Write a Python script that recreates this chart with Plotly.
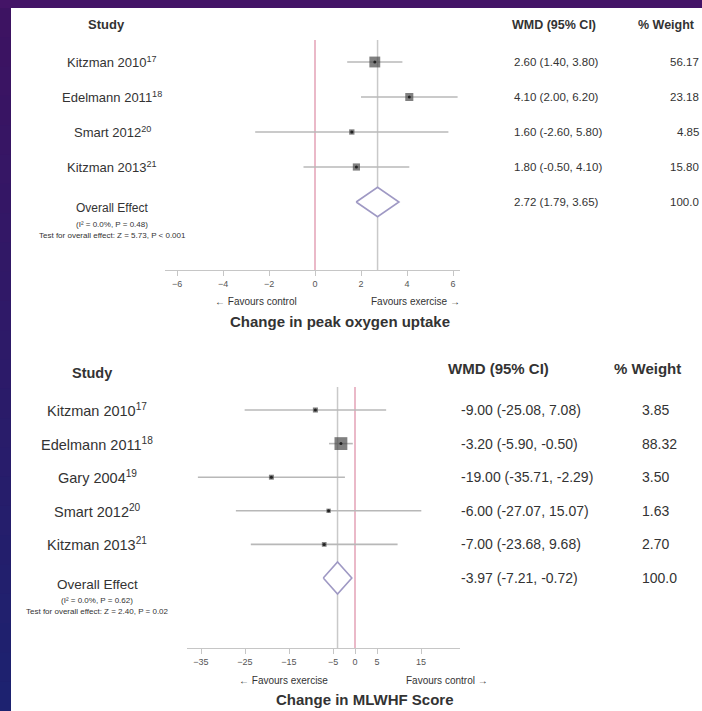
import plotly.graph_objects as go
import numpy as np

# ---------------- data ----------------
top_studies = ["Kitzman 2010", "Edelmann 2011", "Smart 2012", "Kitzman 2013"]
top_refs = ["17", "18", "20", "21"]
top_est = [2.60, 4.10, 1.60, 1.80]
top_lo = [1.40, 2.00, -2.60, -0.50]
top_hi = [3.80, 6.20, 5.80, 4.10]
top_wt = [56.17, 23.18, 4.85, 15.80]
top_overall = [2.72, 1.79, 3.65]
top_ticks = [-6, -4, -2, 0, 2, 4, 6]
top_title = "Change in peak oxygen uptake"
top_left_note = "\u2190 Favours control"
top_right_note = "Favours exercise \u2192"
top_het = ["(I\u00b2 = 0.0%, P = 0.48)", "Test for overall effect: Z = 5.73, P < 0.001"]

bot_studies = ["Kitzman 2010", "Edelmann 2011", "Gary 2004", "Smart 2012", "Kitzman 2013"]
bot_refs = ["17", "18", "19", "20", "21"]
bot_est = [-9.00, -3.20, -19.00, -6.00, -7.00]
bot_lo = [-25.08, -5.90, -35.71, -27.07, -23.68]
bot_hi = [7.08, -0.50, -2.29, 15.07, 9.68]
bot_wt = [3.85, 88.32, 3.50, 1.63, 2.70]
bot_overall = [-3.97, -7.21, -0.72]
bot_ticks = [-35, -25, -15, -5, 0, 5, 15]
bot_title = "Change in MLWHF Score"
bot_left_note = "\u2190 Favours exercise"
bot_right_note = "Favours control \u2192"
bot_het = ["(I\u00b2 = 0.0%, P = 0.62)", "Test for overall effect: Z = 2.40, P = 0.02"]

headers = ["Study", "WMD (95% CI)", "% Weight"]

W, H = 702, 711
def px(x):
    return x / W
def py(y):
    return 1 - y / H

FONT = "Liberation Sans, Arial, sans-serif"
TXT = "#333333"

fig = go.Figure()
annotations = []
shapes = []

# ---------------- background frame ----------------
shapes.append(dict(type="rect", xref="paper", yref="paper", x0=0, x1=1, y0=py(8), y1=1,
                   fillcolor="#441467", line=dict(width=0), layer="below"))
nb = 24
c0 = np.array([0x3d, 0x13, 0x62]); c1 = np.array([0x1d, 0x22, 0x70])
for k in range(nb):
    c = (c0 + (c1 - c0) * k / (nb - 1)).astype(int)
    y0 = 8 + (H - 8) * k / nb
    y1 = 8 + (H - 8) * (k + 1) / nb + 1
    shapes.append(dict(type="rect", xref="paper", yref="paper", x0=0, x1=px(11),
                       y0=py(min(y1, H)), y1=py(y0),
                       fillcolor="rgb(%d,%d,%d)" % tuple(c), line=dict(width=0), layer="below"))


def forest(studies, refs, est, lo, hi, wt, overall, xa, ya, lab_x, lab_fs, val_x, val_fs,
           wt_x, wt_anchor, het, het_fs, diam_h):
    n = len(studies)
    rows = list(range(1, n + 1))
    orow = n + 1
    est = np.array(est); lo = np.array(lo); hi = np.array(hi); wt = np.array(wt)
    sizes = 3 + np.sqrt(wt) * 1.05
    fig.add_trace(go.Scatter(
        x=est, y=rows, mode="markers", xaxis=xa, yaxis=ya, showlegend=False,
        marker=dict(symbol="square", size=sizes, color="#4a4a4a", line=dict(width=0)),
        error_x=dict(type="data", symmetric=False, array=hi - est, arrayminus=est - lo,
                     color="#b8b8b8", thickness=1.6, width=0),
        hoverinfo="skip"))
    fig.add_trace(go.Scatter(x=est, y=rows, mode="markers", xaxis=xa, yaxis=ya, showlegend=False,
                             marker=dict(symbol="circle", size=3, color="#222"), hoverinfo="skip"))
    oe, ol, oh = overall
    fig.add_trace(go.Scatter(
        x=[ol, oe, oh, oe, ol], y=[orow, orow - diam_h, orow, orow + diam_h, orow],
        mode="lines", fill="toself", fillcolor="white", xaxis=xa, yaxis=ya,
        line=dict(color="#9f99c4", width=1.6), showlegend=False, hoverinfo="skip"))
    yref = ya
    xref = xa
    shapes.append(dict(type="line", xref=xref, yref=yref + " domain", x0=0, x1=0, y0=0, y1=1,
                       line=dict(color="#e3a2b6", width=1.5), layer="below"))
    shapes.append(dict(type="line", xref=xref, yref=yref + " domain", x0=oe, x1=oe, y0=0, y1=1,
                       line=dict(color="#c9c9c9", width=1.5), layer="below"))
    for i in range(n):
        annotations.append(dict(x=px(lab_x), xref="paper", y=rows[i], yref=yref,
                                text="%s<sup>%s</sup>" % (studies[i], refs[i]), showarrow=False,
                                xanchor="center", font=dict(size=lab_fs, color=TXT, family=FONT)))
        annotations.append(dict(x=px(val_x), xref="paper", y=rows[i], yref=yref,
                                text="%.2f (%.2f, %.2f)" % (est[i], lo[i], hi[i]), showarrow=False,
                                xanchor="left", font=dict(size=val_fs, color=TXT, family=FONT)))
        annotations.append(dict(x=px(wt_x), xref="paper", y=rows[i], yref=yref,
                                text="%.2f" % wt[i], showarrow=False,
                                xanchor=wt_anchor, font=dict(size=val_fs, color=TXT, family=FONT)))
    annotations.append(dict(x=px(lab_x), xref="paper", y=orow, yref=yref, yshift=-6,
                            text="Overall Effect", showarrow=False, xanchor="center",
                            font=dict(size=lab_fs - 1, color=TXT, family=FONT)))
    annotations.append(dict(x=px(lab_x), xref="paper", y=orow, yref=yref, yshift=-22,
                            text=het[0], showarrow=False, xanchor="center",
                            font=dict(size=het_fs, color=TXT, family=FONT)))
    annotations.append(dict(x=px(lab_x), xref="paper", y=orow, yref=yref, yshift=-33,
                            text=het[1], showarrow=False, xanchor="center",
                            font=dict(size=het_fs, color=TXT, family=FONT)))
    annotations.append(dict(x=px(val_x), xref="paper", y=orow, yref=yref,
                            text="%.2f (%.2f, %.2f)" % (oe, ol, oh), showarrow=False,
                            xanchor="left", font=dict(size=val_fs, color=TXT, family=FONT)))
    annotations.append(dict(x=px(wt_x), xref="paper", y=orow, yref=yref,
                            text="100.0", showarrow=False,
                            xanchor=wt_anchor, font=dict(size=val_fs, color=TXT, family=FONT)))


# top panel
forest(top_studies, top_refs, top_est, top_lo, top_hi, top_wt, top_overall, "x", "y",
       lab_x=112, lab_fs=13, val_x=512, val_fs=11.5, wt_x=701, wt_anchor="right",
       het=top_het, het_fs=8, diam_h=0.42)
# bottom panel
forest(bot_studies, bot_refs, bot_est, bot_lo, bot_hi, bot_wt, bot_overall, "x2", "y2",
       lab_x=97, lab_fs=14.5, val_x=459, val_fs=14, wt_x=640, wt_anchor="left",
       het=bot_het, het_fs=8, diam_h=0.48)

def head(x, y, t, fs, anchor="center"):
    annotations.append(dict(x=px(x), y=py(y), xref="paper", yref="paper", text="<b>%s</b>" % t,
                            showarrow=False, xanchor=anchor, yanchor="middle",
                            font=dict(size=fs, color=TXT, family=FONT)))

head(106, 24, headers[0], 13)
head(510, 25, headers[1], 12.5, "left")
head(636, 25, headers[2], 12.5, "left")
head(92, 373, headers[0], 14.5)
head(446, 368, headers[1], 15, "left")
head(612, 368, headers[2], 15, "left")

def cap(x, y, t, fs, anchor, bold=False):
    annotations.append(dict(x=px(x), y=py(y), xref="paper", yref="paper",
                            text=("<b>%s</b>" % t) if bold else t, showarrow=False,
                            xanchor=anchor, yanchor="middle",
                            font=dict(size=fs, color=TXT, family=FONT)))

cap(213, 301, top_left_note, 10, "left")
cap(462, 301, top_right_note, 10, "right")
cap(340, 321, top_title, 15, "center", True)
cap(237, 680, bot_left_note, 10, "left")
cap(490, 680, bot_right_note, 10, "right")
cap(365, 699, bot_title, 15, "center", True)

axis_common = dict(showgrid=False, zeroline=False, showline=True, linecolor="#c6c6c6",
                   linewidth=1.2, ticks="outside", ticklen=5, tickcolor="#c6c6c6",
                   tickfont=dict(size=9, color="#555", family=FONT), fixedrange=True)

top_ppu = 23.0
bot_ppu = 4.4
fig.update_layout(
    width=W, height=H, autosize=False,
    margin=dict(l=0, r=0, t=0, b=0, pad=0),
    paper_bgcolor="white", plot_bgcolor="rgba(0,0,0,0)",
    showlegend=False,
    xaxis=dict(domain=[px(165), px(460)], range=[(165 - 315) / top_ppu, (460 - 315) / top_ppu],
               tickvals=top_ticks, anchor="y", **axis_common),
    yaxis=dict(domain=[py(270), py(40)], range=[1 + (270 - 62) / 35.0, 1 - (62 - 40) / 35.0],
               visible=False, fixedrange=True),
    xaxis2=dict(domain=[px(187), px(460)], range=[(187 - 355) / bot_ppu, (460 - 355) / bot_ppu],
                tickvals=bot_ticks, anchor="y2", **axis_common),
    yaxis2=dict(domain=[py(648), py(387)], range=[1 + (648 - 410) / 33.6, 1 - (410 - 387) / 33.6],
                visible=False, fixedrange=True),
    shapes=shapes,
    annotations=annotations,
)

fig.write_html("out.html", config={"displayModeBar": False},
               post_script="document.body.style.margin='0';document.body.style.padding='0';")
